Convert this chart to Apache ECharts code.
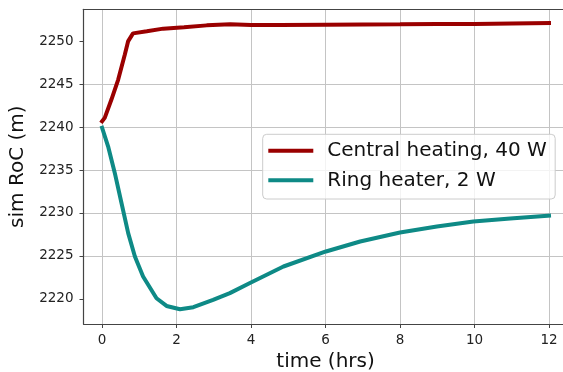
<!DOCTYPE html>
<html>
<head>
<meta charset="utf-8">
<script src="https://cdn.jsdelivr.net/npm/echarts@6/dist/echarts.min.js"></script>
<style>
html,body{margin:0;padding:0;background:#fff;overflow:hidden;}
#c{width:563px;height:372px;}
</style>
</head>
<body>
<div id="c"></div>
<script>
// Data
const seriesNames = ['Central heating, 40 W', 'Ring heater, 2 W'];
const centralTime = [0, 0.07, 0.25, 0.43, 0.61, 0.70, 0.83, 1.2, 1.64, 2.2, 2.81, 3.44, 4.0, 4.78, 6, 7, 8, 9, 10, 11, 12];
const centralRoC = [2240.67, 2241.07, 2243.2, 2245.5, 2248.45, 2250.0, 2250.9, 2251.15, 2251.45, 2251.6, 2251.83, 2251.95, 2251.88, 2251.87, 2251.9, 2251.93, 2251.95, 2251.98, 2252.0, 2252.05, 2252.1];
const ringTime = [0, 0.16, 0.34, 0.52, 0.70, 0.88, 1.10, 1.46, 1.73, 2.09, 2.45, 2.98, 3.43, 3.97, 4.87, 6.01, 6.93, 8.0, 8.99, 9.97, 10.96, 12];
const ringRoC = [2239.9, 2237.76, 2234.66, 2231.16, 2227.66, 2224.93, 2222.6, 2220.08, 2219.18, 2218.8, 2219.03, 2219.88, 2220.67, 2221.85, 2223.77, 2225.52, 2226.68, 2227.73, 2228.43, 2229.01, 2229.36, 2229.7];
const xTicks = [0, 2, 4, 6, 8, 10, 12];
const yTicks = [2220, 2225, 2230, 2235, 2240, 2245, 2250];

const font = 'DejaVu Sans';
const pairs = (t, v) => t.map((x, i) => [x, v[i]]);

const chart = echarts.init(document.getElementById('c'), null, {renderer: 'canvas'});
chart.setOption({
  animation: false,
  backgroundColor: '#ffffff',
  grid: {left: 83.5, top: 9.3, right: -4.6, bottom: 48, containLabel: false, outerBoundsMode: 'none', show: false},
  xAxis: [{
    type: 'value', min: -0.5, max: 12.5, minInterval: 2, maxInterval: 2,
    name: 'time (hrs)', nameLocation: 'middle', nameGap: 28,
    nameTextStyle: {fontFamily: font, fontSize: 20, color: '#111'},
    axisLine: {show: true, onZero: false, lineStyle: {color: '#444', width: 1.2}},
    axisTick: {show: true, length: 4, customValues: xTicks, lineStyle: {color: '#444', width: 1}},
    axisLabel: {customValues: xTicks, margin: 9, fontFamily: font, fontSize: 13.5, color: '#222',
                formatter: v => String(v)},
    splitLine: {show: false}
  }, {
    type: 'value', position: 'top', min: -0.5, max: 12.5, minInterval: 2, maxInterval: 2,
    axisLine: {show: true, onZero: false, lineStyle: {color: '#444', width: 1.2}},
    axisTick: {show: false}, axisLabel: {show: false},
    splitLine: {show: true, showMinLine: false, showMaxLine: false, lineStyle: {color: '#c4c4c4', width: 1}}
  }],
  yAxis: {
    type: 'value', min: 2217.08, max: 2253.7, minInterval: 5, maxInterval: 5,
    name: 'sim RoC (m)', nameLocation: 'middle', nameGap: 52, nameRotate: 90,
    nameTextStyle: {fontFamily: font, fontSize: 20, color: '#111'},
    axisLine: {show: true, onZero: false, lineStyle: {color: '#444', width: 1.2}},
    axisTick: {show: true, length: 4, customValues: yTicks, lineStyle: {color: '#444', width: 1}},
    axisLabel: {customValues: yTicks, margin: 10, fontFamily: font, fontSize: 13.5, color: '#222',
                formatter: v => String(v)},
    splitLine: {show: true, showMinLine: false, showMaxLine: false, lineStyle: {color: '#c4c4c4', width: 1}}
  },
  legend: {
    orient: 'vertical', left: 262.7, top: 134.3,
    padding: [6.4, 8.4, 8.7, 5.6],
    itemWidth: 45, itemHeight: 4, itemGap: 9.6,
    icon: 'rect',
    backgroundColor: 'rgba(255,255,255,0.8)', borderColor: '#cccccc', borderWidth: 1, borderRadius: 4,
    textStyle: {fontFamily: font, fontSize: 20, color: '#111', padding: [0, 0, 0, 9]},
    data: seriesNames
  },
  series: [
    {name: seriesNames[0], type: 'line', data: pairs(centralTime, centralRoC), showSymbol: false, symbol: 'none',
     itemStyle: {color: '#9a0000'}, lineStyle: {color: '#9a0000', width: 4, cap: 'square'}},
    {name: seriesNames[1], type: 'line', data: pairs(ringTime, ringRoC), showSymbol: false, symbol: 'none',
     itemStyle: {color: '#0e8a86'}, lineStyle: {color: '#0e8a86', width: 4, cap: 'square'}}
  ]
});
</script>
</body>
</html>
